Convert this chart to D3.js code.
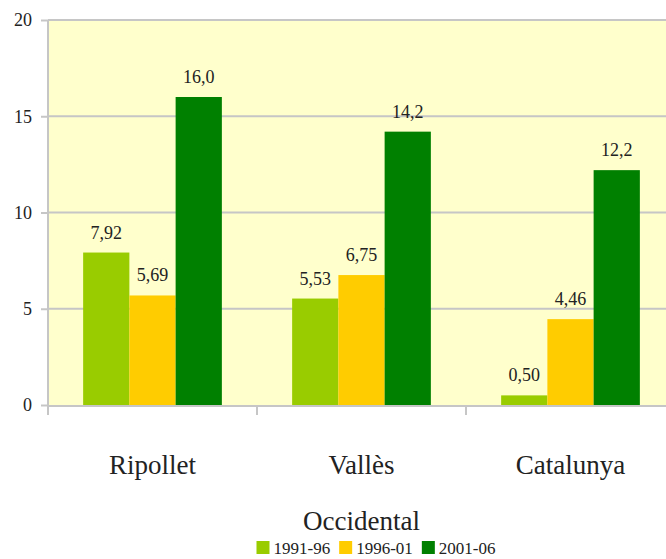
<!DOCTYPE html>
<html>
<head>
<meta charset="utf-8">
<script src="https://cdn.jsdelivr.net/npm/d3@7"></script>
<style>
  body { margin: 0; background: #fff; }
</style>
</head>
<body>
<svg id="chart" width="666" height="559"></svg>
<script>
const categories = [["Ripollet"], ["Vallès", "Occidental"], ["Catalunya"]];
const seriesNames = ["1991-96", "1996-01", "2001-06"];
const values = [
  [7.92, 5.69, 16.0],
  [5.53, 6.75, 14.2],
  [0.50, 4.46, 12.2]
];
const labels = [
  ["7,92", "5,69", "16,0"],
  ["5,53", "6,75", "14,2"],
  ["0,50", "4,46", "12,2"]
];
const yTicks = [0, 5, 10, 15, 20];
const colors = ["#99cc00", "#ffcc00", "#008000"];

const FONT = "'Liberation Serif', 'DejaVu Serif', 'Noto Serif', Tinos, 'Times New Roman', Times, FreeSerif, serif";

const svg = d3.select("#chart");
const margin = {left: 48, top: 20, right: -9, bottom: 154};
const width = 666, height = 559;
const grid = "#c6c6c6";

const x = d3.scaleBand()
    .domain(d3.range(categories.length))
    .range([margin.left, width - margin.right])
    .paddingInner(0)
    .paddingOuter(0);

const xs = d3.scaleBand()
    .domain(d3.range(seriesNames.length))
    .range([0, x.bandwidth()])
    .paddingOuter(0.76)
    .paddingInner(0);

const y = d3.scaleLinear()
    .domain([0, 20])
    .range([height - margin.bottom, margin.top]);

// plot background
svg.append("rect")
    .attr("x", margin.left)
    .attr("y", margin.top)
    .attr("width", width - margin.left)
    .attr("height", y(0) - margin.top)
    .attr("fill", "#ffffcc");

// gridlines
svg.append("g").selectAll("line")
    .data(yTicks.slice(1))
    .join("line")
    .attr("x1", margin.left).attr("x2", width)
    .attr("y1", d => y(d)).attr("y2", d => y(d))
    .attr("stroke", grid).attr("stroke-width", 2);

// bars
const groups = svg.append("g").selectAll("g")
    .data(values)
    .join("g")
    .attr("transform", (d, i) => `translate(${x(i)},0)`);

groups.selectAll("rect")
    .data(d => d)
    .join("rect")
    .attr("x", (d, j) => xs(j))
    .attr("y", d => y(d))
    .attr("width", xs.bandwidth())
    .attr("height", d => y(0) - y(d))
    .attr("fill", (d, j) => colors[j]);

groups.selectAll("text")
    .data((d, i) => d.map((v, j) => ({v, j, t: labels[i][j]})))
    .join("text")
    .attr("x", d => xs(d.j) + xs.bandwidth() / 2)
    .attr("y", d => y(d.v) - 14)
    .attr("text-anchor", "middle")
    .attr("fill", "#222")
    .style("font-family", FONT)
    .style("font-size", "18px")
    .text(d => d.t);

// y axis
const yAxis = d3.axisLeft(y).tickValues(yTicks).tickSize(7).tickPadding(9);
const gY = svg.append("g")
    .attr("transform", `translate(${margin.left},0)`)
    .call(yAxis);
gY.select(".domain").attr("stroke", grid).attr("stroke-width", 2)
    .attr("d", `M0,${margin.top}V${y(0)}`);
gY.selectAll(".tick line").attr("stroke", grid).attr("stroke-width", 2);
gY.selectAll(".tick text").attr("fill", "#222")
    .style("font-size", "18px")
    .style("font-family", FONT);

// x axis line + category ticks
svg.append("line")
    .attr("x1", margin.left).attr("x2", width)
    .attr("y1", y(0) + 1).attr("y2", y(0) + 1)
    .attr("stroke", grid).attr("stroke-width", 2);

svg.append("g").selectAll("line")
    .data(d3.range(categories.length))
    .join("line")
    .attr("x1", i => x(i)).attr("x2", i => x(i))
    .attr("y1", y(0)).attr("y2", y(0) + 10)
    .attr("stroke", grid).attr("stroke-width", 2);

// category labels
const catText = svg.append("g").selectAll("text")
    .data(categories)
    .join("text")
    .attr("x", (d, i) => x(i) + x.bandwidth() / 2)
    .attr("y", y(0) + 69)
    .attr("text-anchor", "middle")
    .attr("fill", "#222")
    .style("font-family", FONT)
    .style("font-size", "27px");

catText.selectAll("tspan")
    .data(d => d)
    .join("tspan")
    .attr("x", function() { return this.parentNode.getAttribute("x"); })
    .attr("dy", (d, k) => k === 0 ? 0 : 56)
    .text(d => d);

// legend, centred under the plot
const legend = svg.append("g");
const items = legend.selectAll("g")
    .data(seriesNames)
    .join("g");
items.append("rect")
    .attr("x", 0).attr("y", -7)
    .attr("width", 13).attr("height", 13)
    .attr("fill", (d, i) => colors[i]);
items.append("text")
    .attr("x", 17).attr("y", 6)
    .attr("fill", "#222")
    .style("font-family", FONT)
    .style("font-size", "17px")
    .text(d => d);

let cursor = 0;
items.each(function() {
  const g = d3.select(this);
  g.attr("transform", `translate(${cursor},0)`);
  cursor += 17 + g.select("text").node().getComputedTextLength() + 9;
});
const legendW = cursor - 9;
legend.attr("transform", `translate(${376 - legendW / 2},548)`);
</script>
</body>
</html>
